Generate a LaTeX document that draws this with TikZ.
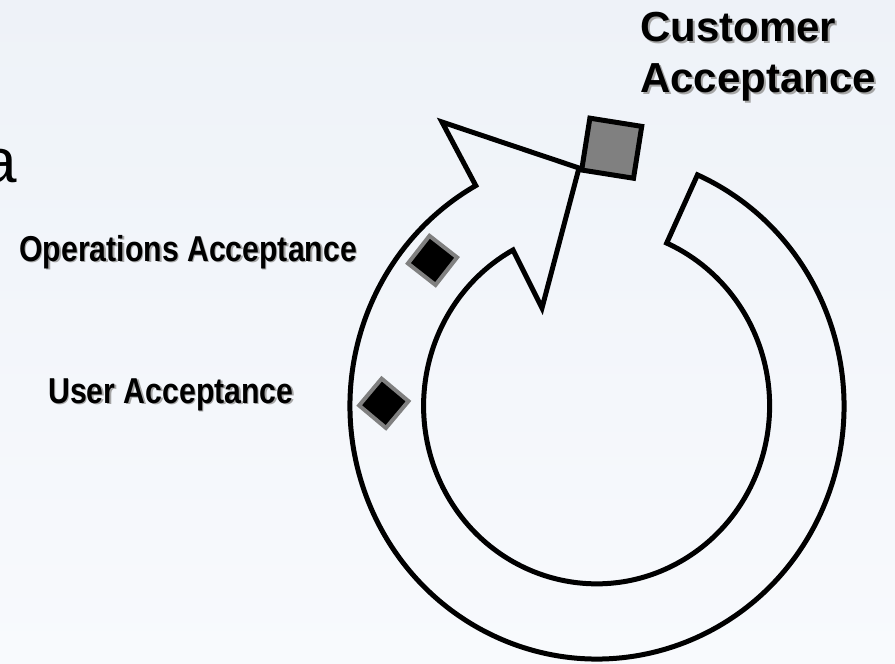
\documentclass[tikz,border=0pt]{standalone}
\usepackage{fontspec}
\setmainfont{Liberation Sans}
\newfontfamily\nb[FakeStretch=0.84]{Liberation Sans Bold}
\newfontfamily\wb{Liberation Sans Bold}
\definecolor{bgtop}{RGB}{238,242,248}
\definecolor{bgbot}{RGB}{248,250,253}
\definecolor{midgray}{RGB}{128,128,128}
\definecolor{shadowgray}{RGB}{165,165,165}
\begin{document}
\begin{tikzpicture}[x=1pt,y=-1pt,
  band/.style={draw=black,line width=5pt,line join=miter},
  gate/.style={shape=rectangle,draw=midgray,fill=black,line width=4pt,minimum size=35pt,inner sep=0pt},
  custgate/.style={shape=rectangle,draw=black,fill=midgray,line width=5pt,minimum size=52.5pt,inner sep=0pt,rotate=-9},
  lbl/.style={inner sep=0pt,anchor=base west,font=\nb\fontsize{36}{40}\selectfont},
  biglbl/.style={inner sep=0pt,anchor=base west,font=\wb\fontsize{42}{48}\selectfont},
  shadowtext/.style={text=shadowgray}]
\useasboundingbox (0,0) rectangle (895,664);
\clip (0,0) rectangle (895,664);
\shade[top color=bgtop,bottom color=bgbot] (0,0) rectangle (895,664);
% partial large letter at left edge
\node[inner sep=0pt,anchor=base west,font=\fontsize{62}{70}\selectfont] (cut) at (-18,182) {a};
% cycle arrow band
\draw[band] ([shift={(-66:247 and 253)}]597,406)
  arc[start angle=-66,end angle=240.6,x radius=247,y radius=253]
  -- (442,122) -- (579,168) -- (542,308) -- (513,250)
  arc[start angle=241.1,end angle=-66.1,x radius=173,y radius=178]
  -- cycle;
% gates
\node[custgate] (custgate) at (611.7,148.2) {};
\node[gate,rotate=-38] (opsgate) at (432.5,260.4) {};
\node[gate,rotate=-40] (usergate) at (383.8,403.3) {};
% labels with shadow
\node[lbl,shadowtext] (opsshadow) at (20.5,262.5) {Operations Acceptance};
\node[lbl] (ops) at (19,261) {Operations Acceptance};
\node[lbl,shadowtext] (usershadow) at (49.5,404.5) {User Acceptance};
\node[lbl] (user) at (48,403) {User Acceptance};
\node[biglbl,shadowtext] (cust1shadow) at (642,43) {Customer};
\node[biglbl] (cust1) at (640,41) {Customer};
\node[biglbl,shadowtext] (cust2shadow) at (642,94) {Acceptance};
\node[biglbl] (cust2) at (640,92) {Acceptance};
\end{tikzpicture}
\end{document}
